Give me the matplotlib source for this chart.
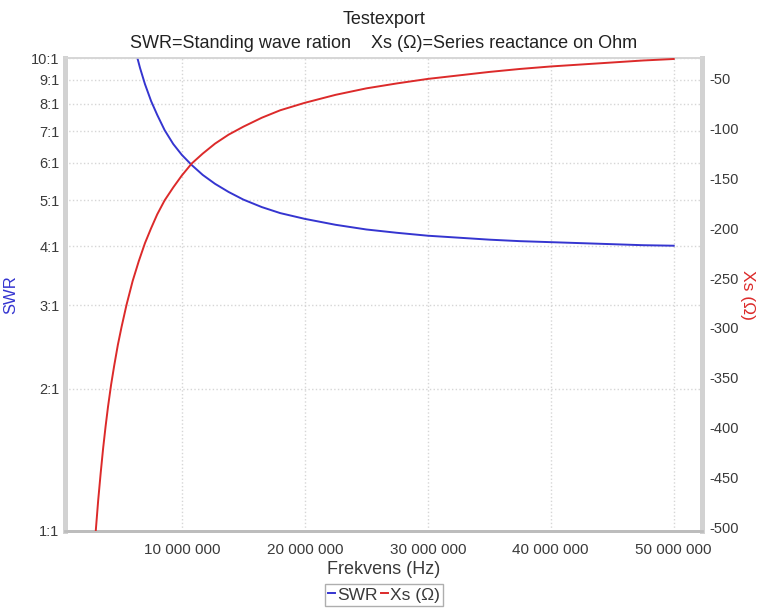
import numpy as np
import matplotlib
matplotlib.use("Agg")
import matplotlib.pyplot as plt
from matplotlib.ticker import FixedLocator, FuncFormatter, NullLocator

plt.rcParams['font.family'] = ['Liberation Sans', 'DejaVu Sans']
plt.rcParams['axes.unicode_minus'] = False

# SWR readings (frequency in MHz)
swr_freq = [6.3, 6.6, 7.0, 7.5, 8.0, 8.6, 9.3, 10.0, 10.8, 11.7, 12.7, 13.8, 15.0,
            16.5, 18.0, 20.0, 22.5, 25.0, 27.5, 30.0, 32.5, 35.0, 37.5, 40.0,
            42.5, 45.0, 47.5, 50.0]
swr_vals = [10.2, 9.53, 8.81, 8.11, 7.58, 7.04, 6.58, 6.24, 5.94, 5.66, 5.42, 5.21, 5.02,
            4.84, 4.70, 4.57, 4.44, 4.34, 4.27, 4.21, 4.17, 4.13, 4.10, 4.08,
            4.06, 4.04, 4.02, 4.01]

# series reactance readings (frequency in MHz, ohm)
xs_freq = [3.0, 3.2, 3.4, 3.6, 3.8, 4.0, 4.25, 4.5, 4.8, 5.1, 5.5, 6.0, 6.5, 7.0,
           7.5, 8.0, 8.6, 9.3, 10.0, 10.8, 11.7, 12.7, 13.8, 15.0, 16.5, 18.0,
           20.0, 22.5, 25.0, 27.5, 30.0, 32.5, 35.0, 37.5, 40.0, 42.5, 45.0, 47.5, 50.0]
xs_vals = [-504, -473, -446, -421, -399, -379, -357, -338, -317, -299, -277, -253, -233, -215,
           -200, -186, -172, -159, -147, -135, -125, -115, -106, -98, -89, -81.5,
           -74, -66, -59.5, -54.5, -50, -46.5, -43, -40, -37.5, -35.5, -33.5, -31.5, -30]

swr_ticks = [1, 2, 3, 4, 5, 6, 7, 8, 9, 10]
swr_labels = ['%d:1' % v for v in swr_ticks]
xs_ticks = [-50, -100, -150, -200, -250, -300, -350, -400, -450, -500]
freq_ticks = [10e6, 20e6, 30e6, 40e6, 50e6]

blue = '#3535d0'
red = '#dc2a2a'
txt = '#3a3a3a'
grid_c = '#d6d6d6'

fig = plt.figure(figsize=(7.6, 6.1), dpi=100)
ax = fig.add_axes([65 / 760, 79 / 610, 637 / 760, 473 / 610])
ax2 = ax.twinx()

ax.plot(np.array(swr_freq) * 1e6, swr_vals, color=blue, lw=1.4, label='SWR', zorder=3)
ax2.plot(np.array(xs_freq) * 1e6, xs_vals, color=red, lw=1.4, label='Xs (\u03a9)', zorder=3)

ax.set_yscale('log')
ax.set_ylim(1, 10)
ax.set_xlim(0.5e6, 52.3e6)
ax2.set_ylim(-504, -29)

ax.yaxis.set_major_locator(FixedLocator(swr_ticks))
ax.yaxis.set_minor_locator(NullLocator())
ax.set_yticklabels(swr_labels)
ax.xaxis.set_major_locator(FixedLocator(freq_ticks))
ax.xaxis.set_major_formatter(FuncFormatter(lambda v, p: '{:,.0f}'.format(v).replace(',', ' ')))
ax2.yaxis.set_major_locator(FixedLocator(xs_ticks))

ax.grid(True, which='major', color=grid_c, ls=':', lw=1.0)
ax.set_axisbelow(True)

for a in (ax, ax2):
    a.tick_params(length=0, labelsize=10.5, labelcolor=txt)
    a.spines['left'].set_color('#d2d2d2')
    a.spines['left'].set_linewidth(3.5)
    a.spines['right'].set_color('#d2d2d2')
    a.spines['right'].set_linewidth(3.5)
    a.spines['top'].set_color('#d6d6d6')
    a.spines['top'].set_linewidth(1.2)
    a.spines['bottom'].set_color('#bdbdbd')
    a.spines['bottom'].set_linewidth(2.0)
ax.tick_params(axis='y', pad=4)
ax.tick_params(axis='x', pad=9, labelsize=11)
ax2.tick_params(axis='y', pad=5)

ax.set_ylabel('SWR', color=blue, fontsize=12)
ax.yaxis.set_label_coords(-0.074, 0.5)
ax2.set_ylabel('Xs (\u03a9)', color=red, fontsize=12.5, rotation=270, va='center')
ax2.yaxis.set_label_coords(1.072, 0.5)
ax.set_xlabel('Frekvens (Hz)', color=txt, fontsize=13)
ax.xaxis.set_label_coords(0.5, -0.064)

fig.text(0.505, 0.968, 'Testexport', ha='center', va='center', fontsize=13, color='#222222')
fig.text(0.505, 0.928, 'SWR=Standing wave ration    Xs (\u03a9)=Series reactance on Ohm',
         ha='center', va='center', fontsize=13, color='#222222')

h1, l1 = ax.get_legend_handles_labels()
h2, l2 = ax2.get_legend_handles_labels()
leg = fig.legend(h1 + h2, l1 + l2, loc='center', bbox_to_anchor=(0.505, 0.0246), ncol=2,
                 fontsize=12.5, frameon=True, fancybox=False, handlelength=0.4,
                 handletextpad=0.1, columnspacing=0.2, borderpad=0.2, borderaxespad=0)
leg.get_frame().set_edgecolor('#9a9a9a')
leg.get_frame().set_linewidth(1.0)
for t in leg.get_texts():
    t.set_color(txt)

fig.savefig('out.png', dpi=100, facecolor='white')
